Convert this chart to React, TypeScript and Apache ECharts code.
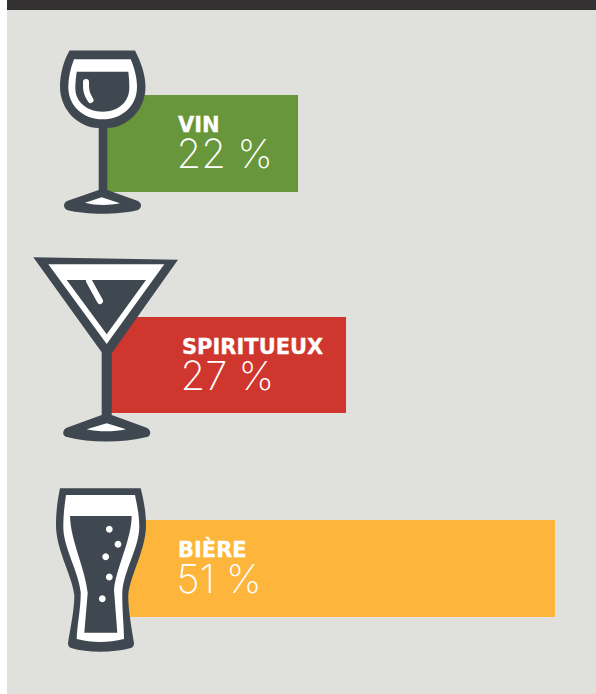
import React, { useEffect, useRef } from "react";
import * as echarts from "echarts";

const categories = ["VIN", "SPIRITUEUX", "BIÈRE"];
const shares = [22, 27, 51];

const barColors = ["#68963b", "#cf372e", "#fdb53c"];
const DARK = "#3f4750";
const WHITE = "#ffffff";
const PX_PER_UNIT = 8.86;
const AXIS_MAX = 55;
const rows = [
  { left: 103.1, top: 95, height: 97, textX: 176.5, textY: 112 },
  { left: 106.8, top: 317, height: 96, textX: 180.5, textY: 334 },
  { left: 103.1, top: 520, height: 97, textX: 176.5, textY: 537 },
];

const shapes: Record<string, string> = {
  wineOuter: "M69.5 50.5 L135 50.5 C141 62 145.5 75 145.5 87 C145.5 110 127 128 107.3 128 L107.3 190 L138 201 C142 203 142 208 138 210 C118 215 87 215 67 210 C63 208 63 203 67 201 L98.7 190 L98.7 128 C79 128 60 110 60 87 C60 75 63 62 69.5 50.5 Z",
  wineWhite: "M74 59.3 L130.7 59.3 C134.5 68 137 78 137 87 C137 106 122 119.3 102.7 119.3 C83 119.3 68.3 106 68.3 87 C68.3 78 70.5 68 74 59.3 Z",
  wineFill: "M76.7 71.7 L128.3 71.7 C129 77 129.3 83 129.3 88 C129.3 102 118 111.7 102.7 111.7 C87 111.7 75.3 102 75.3 88 C75.3 83 76 77 76.7 71.7 Z",
  wineFoot: "M85 202.7 L101.7 197.3 L120 203.3 C108 205.5 96 205.5 85 202.7 Z",
  martiniOuter: "M33.3 257.3 L178 259.7 L111.7 353.3 L111.7 415 L146.7 427.7 C151.5 430 151.5 436 146.7 437 C122 443 90 443 67 437 C62 436 62 430 66.7 427.7 L101.7 415 L101.7 352.3 Z",
  martiniWhite: "M48.3 264.3 L164.3 264.3 L106.7 344 Z",
  martiniFill: "M66.7 280 L146 280 L106.7 334.3 Z",
  martiniFoot: "M86.7 429.3 L106.7 423.3 L126 429.3 C113 432 99 432 86.7 429.3 Z",
  beerOuter: "M60 488.3 L140.7 488.3 C143 498 146 510 146 525 C146 550 130 575 128.3 595 C128 610 132 630 134 643 C134 646 133 647 131 648 C112 653 88 653 71 648 C69 647 68 646 68 643 C70 630 74.5 610 74.3 595 C72 575 56 550 56 525 C56 510 58 498 60 488.3 Z",
  beerWhite: "M66 495 L135 495 C137 505 139.3 515 139.3 527 C139 548 124 570 122.3 592 C122 610 124 625 124 639 C108 643 92 643 76.7 639 C77 625 81 608 80.7 592 C78 570 63.5 548 63.3 527 C63.3 515 64.5 505 66 495 Z",
  beerFill: "M70 516 L131.7 516 C131.5 540 116 568 114 590 L117.3 632.7 L84.3 632.7 L87.7 593 C85 568 70.5 540 70 516 Z",
};
Object.entries(shapes).forEach(([name, d]) => {
  echarts.graphic.registerShape(name, echarts.graphic.extendPath(d, {}) as any);
});

const bubbles = [
  [109.3, 529.3],
  [118, 544.3],
  [105.7, 556.7],
  [109.3, 577],
  [102.3, 598.7],
];

export default function App() {
  const ref = useRef<HTMLDivElement>(null);
  useEffect(() => {
    document.body.style.margin = "0";
    const chart = echarts.init(ref.current!, undefined, { renderer: "svg" });
    const shape = (type: string, fill: string) => ({ type, z: 20, style: { fill } });
    chart.setOption({
      animation: false,
      grid: rows.map((r) => ({ left: r.left, top: r.top, height: r.height, width: AXIS_MAX * PX_PER_UNIT, containLabel: false })),
      xAxis: rows.map((_, i) => ({ type: "value", gridIndex: i, min: 0, max: AXIS_MAX, show: false })),
      yAxis: rows.map((_, i) => ({ type: "category", gridIndex: i, data: [categories[i]], show: false })),
      series: rows.map((_, i) => ({
        type: "bar",
        xAxisIndex: i,
        yAxisIndex: i,
        data: [shares[i]],
        barWidth: "100%",
        itemStyle: { color: barColors[i] },
        z: 5,
      })),
      graphic: {
        elements: [
          { type: "rect", z: -10, shape: { x: 7, y: 0, width: 589, height: 694 }, style: { fill: "#e0e1dc" } },
          { type: "rect", z: -9, shape: { x: 7, y: 0, width: 589, height: 10 }, style: { fill: "#333132" } },
          shape("wineOuter", DARK),
          shape("wineWhite", WHITE),
          shape("wineFill", DARK),
          shape("wineFoot", WHITE),
          { type: "polyline", z: 21, shape: { points: [[86, 82], [86.7, 92], [90.5, 100]], smooth: 0.4 }, style: { stroke: WHITE, lineWidth: 6, lineCap: "round", fill: "none" } },
          shape("martiniOuter", DARK),
          shape("martiniWhite", WHITE),
          shape("martiniFill", DARK),
          shape("martiniFoot", WHITE),
          { type: "line", z: 21, shape: { x1: 89, y1: 281, x2: 100, y2: 301 }, style: { stroke: WHITE, lineWidth: 6, lineCap: "round" } },
          shape("beerOuter", DARK),
          shape("beerWhite", WHITE),
          shape("beerFill", DARK),
          ...bubbles.map(([cx, cy]) => ({ type: "circle", z: 21, shape: { cx, cy, r: 3.4 }, style: { fill: WHITE } })),
          ...rows.map((r, i) => ({
            type: "text",
            z: 22,
            x: r.textX,
            y: r.textY,
            style: {
              text: `{name|${categories[i]}}\n{value|${shares[i]} %}`,
              rich: {
                name: { fill: WHITE, font: 'bold 21px "DejaVu Sans"', lineHeight: 26, padding: [0, 0, 0, 1.5], stroke: WHITE, lineWidth: 0.3 },
                value: { fill: WHITE, font: '200 40px "Inter"', lineHeight: 30 },
              },
            },
          })),
        ],
      },
    });
    return () => chart.dispose();
  }, []);
  return <div ref={ref} style={{ width: 596, height: 694 }} />;
}
